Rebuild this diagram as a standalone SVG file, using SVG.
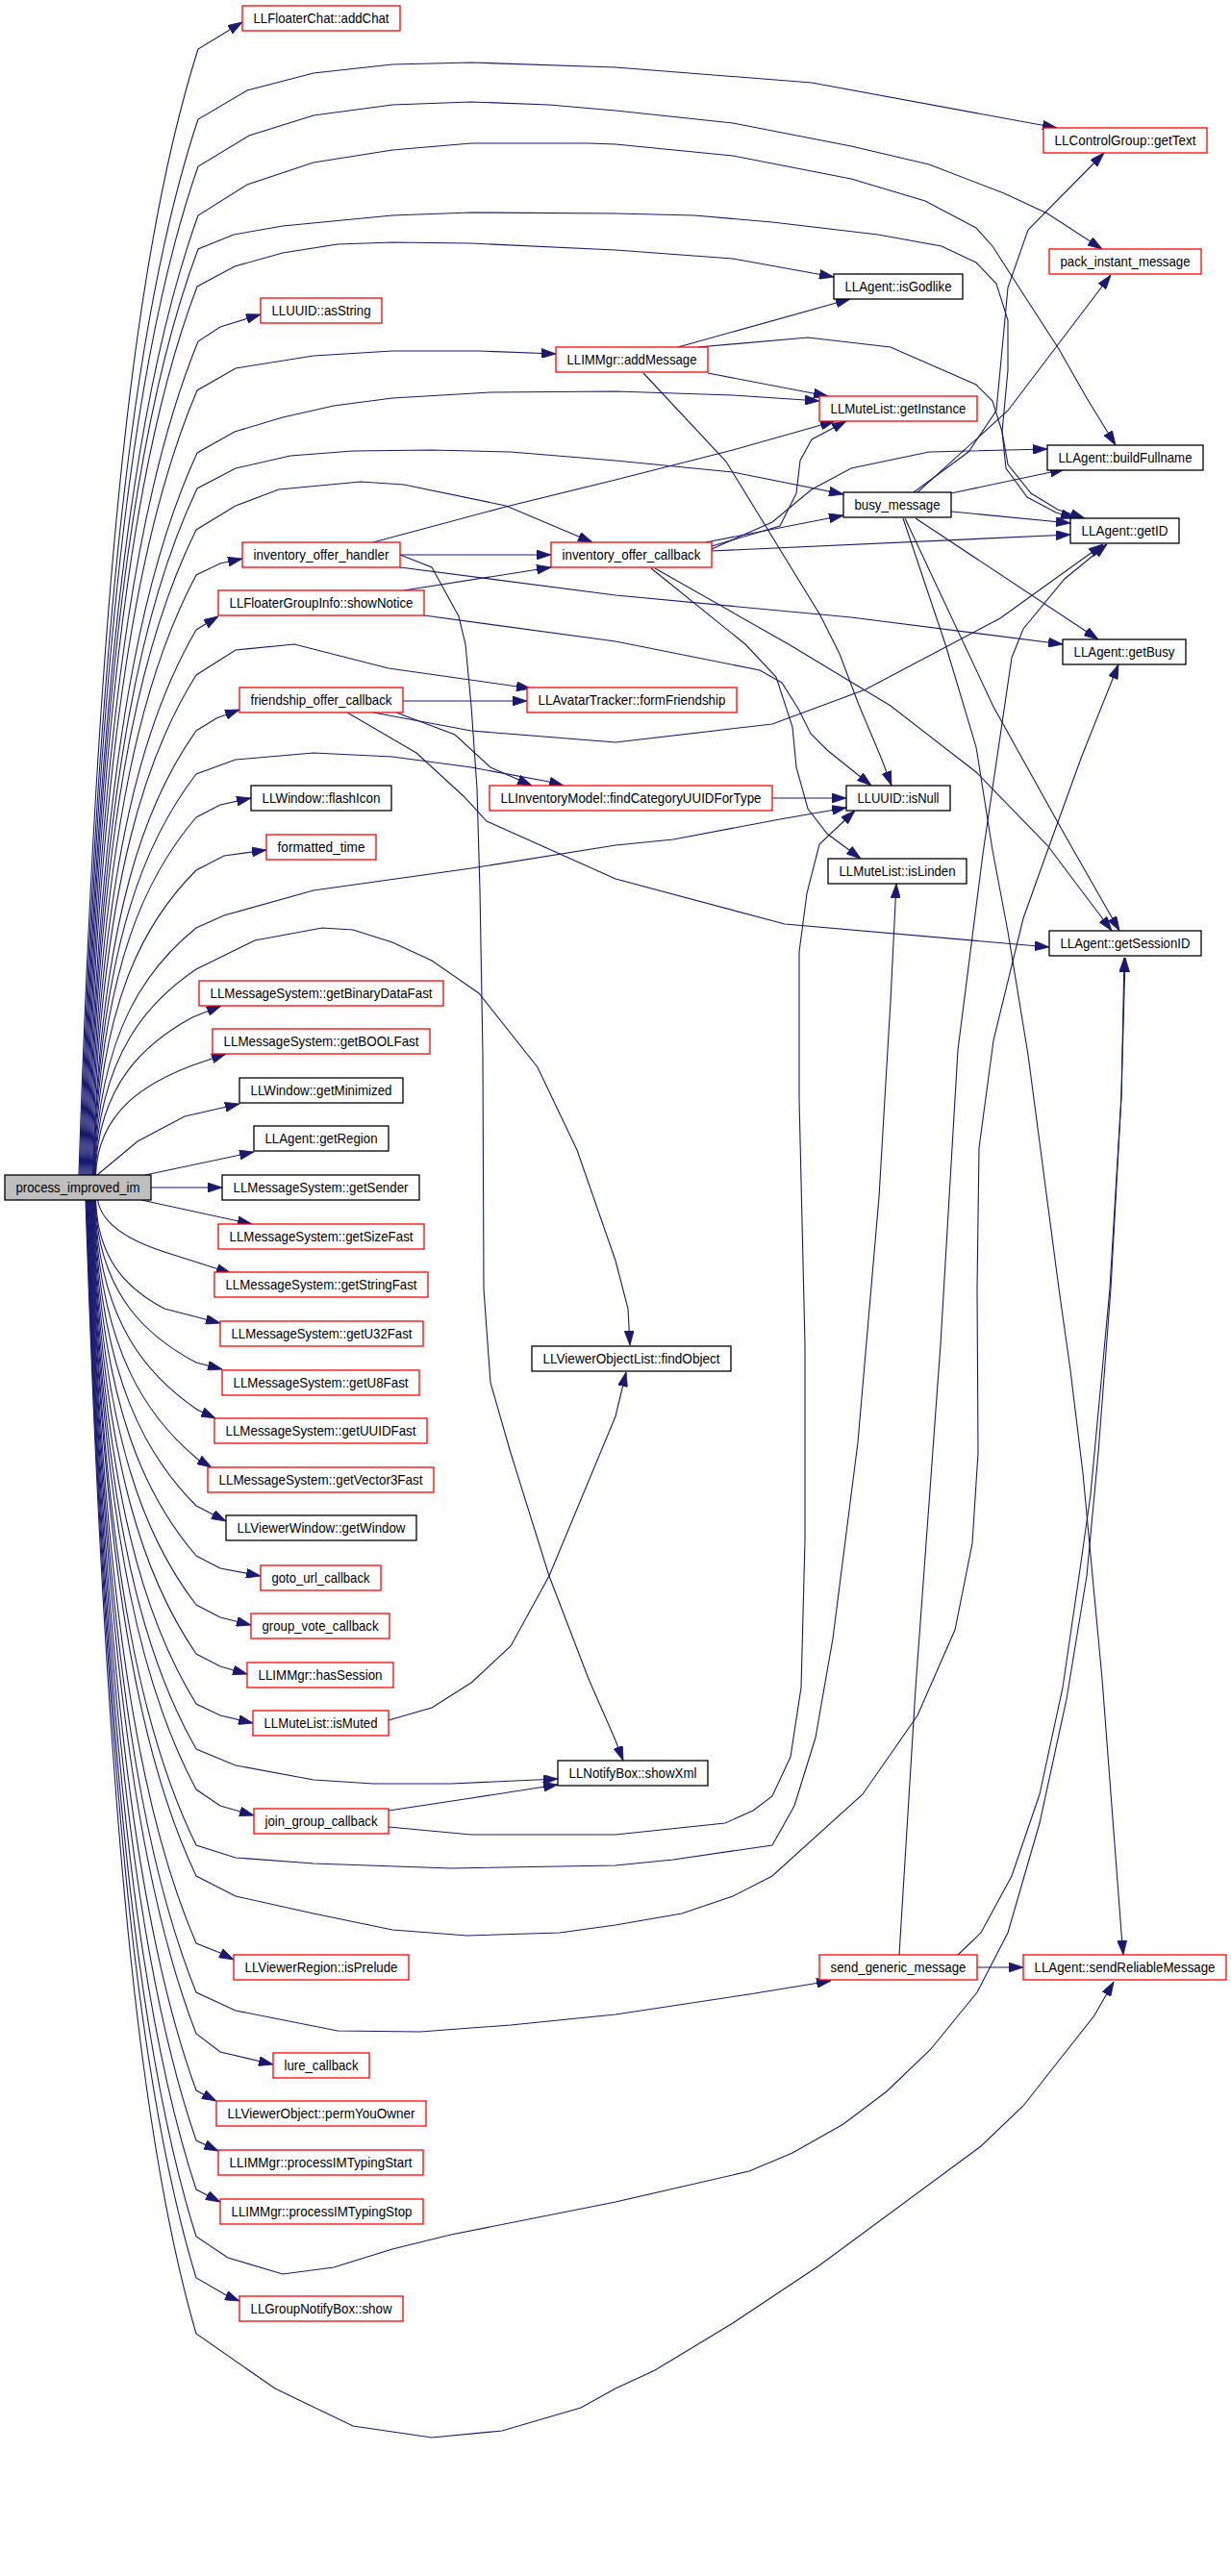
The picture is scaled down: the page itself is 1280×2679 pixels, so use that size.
<svg xmlns="http://www.w3.org/2000/svg" width="1280" height="2679" viewBox="0 0 1280 2679">
<style>
.e{fill:none;stroke:#191970;stroke-width:1.1;marker-end:url(#ah)}
.n rect{fill:#fff;stroke:#ff0000;stroke-width:1.3}
.k rect{fill:#fff;stroke:#000;stroke-width:1.3}
.g rect{fill:#bfbfbf;stroke:#000;stroke-width:1.3}
text{font-family:"Liberation Sans",Arial,Helvetica,sans-serif;font-size:15px;fill:#000;text-anchor:middle}
</style>
<defs>
<marker id="ah" markerUnits="userSpaceOnUse" markerWidth="15" markerHeight="10" refX="15" refY="5" orient="auto">
<path d="M0,0 L15,5 L0,10 z" fill="#191970" stroke="#191970" stroke-width="0.8"/>
</marker>
</defs>
<rect x="0" y="0" width="1280" height="2679" fill="#fff"/>
<g id="connectors">
<path class="e" d="M82,1222 C105,519 150,227 206,51 L252,23"/>
<path class="e" d="M83,1222 C105,563 151,289 206,124 L257,94 L326,76 L408,67 L490,65 L640,70 L844,86 L1099,133"/>
<path class="e" d="M84,1222 C105,593 151,330 206,173 L259,141 L326,120 L408,109 L490,106 L571,109 L640,115 L762,128 L885,152 L966,171 L1044,201 L1089,222 L1146,259"/>
<path class="e" d="M85,1222 C105,623 152,374 206,224 L257,192 L326,169 L408,156 L490,149 L612,149 L640,150 L762,162 L885,186 L962,209 L1015,237 L1032,256 L1068,312 L1101,363 L1130,414 L1160,463"/>
<path class="e" d="M86,1222 C105,644 152,403 206,259 L243,244 L294,235 L408,224 L490,221 L640,222 L722,224 L803,231 L913,244 L979,256 L1015,273 L1036,295 L1048,333 L1048,385 L1042,449 L1046,487 L1068,517 L1098,533 L1118,539"/>
<path class="e" d="M87,1222 C105.5,668 152,437 205,298 L244,277 L294,263 L351,254 L408,252 L490,253 L640,260 L762,269 L867,288"/>
<path class="e" d="M88,1222 C105,702 153,485 206,355 L229,340 L271,327"/>
<path class="e" d="M89,1222 C105,732 153,528 205,406 L245,383 L326,370 L408,365 L498,365 L578,368"/>
<path class="e" d="M90,1222 C105,771 153,584 205,471 L244,449 L294,434 L347,422 L408,414 L510,408 L640,407 L762,411 L852,417"/>
<path class="e" d="M91,1222 C105,794 154,615 205,508 L245,487 L302,474 L367,469 L449,468 L531,470 L640,479 L762,491 L877,514"/>
<path class="e" d="M92,1222 C105,819 154,652 204,551 L245,526 L290,509 L375,501 L420,504 L526,526 L616,564"/>
<path class="e" d="M93,1222 C105.5,848 154,692 204,598 L229,586 L252,581"/>
<path class="e" d="M94,1222 C105,882 154.5,740 204,655 L227,641"/>
<path class="e" d="M95,1222 C105,910 155,780 204,702 L245,676 L306,670 L404,695 L552,716"/>
<path class="e" d="M96,1222 C105,945 155,829 204,760 L225,747 L249,738"/>
<path class="e" d="M96.5,1222 C104.5,972 155.6,868 204,805 L245,790 L326,783 L408,787 L490,798 L571,813 L586,817"/>
<path class="e" d="M97,1222 C104.4,999 156,906 204,850 L229,837 L261,830"/>
<path class="e" d="M97.5,1222 C103.8,1032 156,953 204,905 L233,890 L277,884"/>
<path class="e" d="M98,1222 C103,1068 156,1004 204,965 L233,952 L326,926 L490,903 L640,879 L700,873 L811,852 L880,840"/>
<path class="e" d="M98.5,1222 C102.8,1094 156.5,1040 204,1008 L265,978 L335,965 L367,967 L408,980 L449,999 L498,1033 L559,1110 L600,1196 L640,1311 L653,1361 L655,1399"/>
<path class="e" d="M99,1222 C102,1124 154.5,1083 200,1058 L230,1046"/>
<path class="e" d="M99.5,1222 C101.8,1154 155,1125 200,1108 L235,1096"/>
<path class="e" d="M101,1222 L143,1187 L192,1161 L249,1148"/>
<path class="e" d="M151,1222 L264,1198"/>
<path class="e" d="M157,1235 L231,1235"/>
<path class="e" d="M147,1248 L262,1273"/>
<path class="e" d="M101.5,1248 C106,1275 140,1292 171,1302 L240,1324"/>
<path class="e" d="M99.5,1248 C101.8,1316 138.8,1344 171,1361 L229,1376"/>
<path class="e" d="M99,1248 C102.4,1349 156.8,1392 204,1417 L231,1424"/>
<path class="e" d="M98.5,1248 C102.9,1379 157,1433 205,1466 L224,1475"/>
<path class="e" d="M98,1248 C103.4,1409 156.9,1477 205,1517 L220,1526"/>
<path class="e" d="M97.5,1248 C103.9,1439 156,1518 204,1566 L235,1582"/>
<path class="e" d="M97,1248 C104.4,1470 155.9,1562 204,1618 L229,1631 L271,1639"/>
<path class="e" d="M96.5,1248 C104.9,1501 155.6,1606 204,1669 L229,1682 L261,1690"/>
<path class="e" d="M96,1248 C105.4,1531 155.4,1649 204,1720 L229,1733 L257,1741"/>
<path class="e" d="M95.5,1248 C106,1562 155.2,1693 204,1772 L229,1784 L263,1792"/>
<path class="e" d="M95,1248 C106.4,1591 155,1733 204,1819 L245,1836 L326,1851 L388,1855 L469,1855 L580,1850"/>
<path class="e" d="M94.5,1248 C106.8,1616 154.7,1769 204,1861 L229,1878 L264,1888"/>
<path class="e" d="M94,1248 C107.4,1651 154.5,1818 204,1919 L245,1932 L326,1938 L469,1943 L640,1940 L700,1934 L803,1919 L826,1878 L848,1807 L866,1704 L892,1500 L914,1245 L926,1041 L932,919"/>
<path class="e" d="M93.5,1248 C107.6,1670 154.3,1846 204,1951 L245,1972 L326,1990 L408,2007 L486,2013 L582,2010 L640,2002 L709,1990 L762,1972 L803,1951 L897,1866 L954,1784 L993,1695 L1011,1605 L1017,1511 L1016,1340 L1018,1194 L1033,1082 L1064,955 L1088,888 L1125,786 L1163,691"/>
<path class="e" d="M93,1248 C108.5,1712 154,1905 204,2021 L229,2031 L243,2038"/>
<path class="e" d="M92.5,1248 C109,1742 153.8,1948 204,2072 L245,2091 L351,2112 L437,2113 L531,2106 L640,2095 L779,2074 L864,2060"/>
<path class="e" d="M92,1248 C109.3,1768 153.6,1985 204,2115 L229,2134 L284,2147"/>
<path class="e" d="M91.5,1248 C110,1804 153.4,2035 204,2174 L225,2185"/>
<path class="e" d="M91,1248 C110.6,1835 153.2,2079 204,2226 L227,2237"/>
<path class="e" d="M90.5,1248 C111,1865 152.9,2123 204,2277 L229,2290"/>
<path class="e" d="M90,1248 C111.6,1895 152.7,2164 204,2326 L237,2348 L294,2365 L347,2358 L408,2339 L469,2324 L640,2290 L779,2258 L824,2239 L877,2209 L922,2175 L967,2132 L1016,2072 L1048,2010 L1081,1896 L1109,1767 L1130,1639 L1142,1511 L1155,1340 L1166,1140 L1169,996"/>
<path class="e" d="M89.5,1248 C112,1921 152.5,2201 204,2369 L237,2388 L249,2393"/>
<path class="e" d="M89,1248 C112.6,1955 152.3,2250 204,2427 L286,2484 L367,2523 L449,2535 L522,2528 L604,2504 L640,2484 L681,2465 L762,2416 L852,2356 L1020,2232 L1064,2190 L1138,2096 L1158,2061"/>
<path class="e" d="M416,577 L573,577"/>
<path class="e" d="M388,564 L526,527 L640,499 L762,468 L868,438"/>
<path class="e" d="M416,590 L640,619 L885,642 L1105,670"/>
<path class="e" d="M416,577 L449,590 L477,641 L484,670 L490,734 L496,820 L499,926 L502,1097 L503,1340 L506,1383 L510,1438 L531,1511 L571,1639 L612,1746 L640,1810 L648,1831"/>
<path class="e" d="M420,614 L573,590"/>
<path class="e" d="M441,640 L640,667 L790,697 L813,710 L830,737 L843,763 L860,780 L906,817"/>
<path class="e" d="M705,361 L884,311"/>
<path class="e" d="M736,388 L861,412"/>
<path class="e" d="M726,361 L840,351 L926,361 L1015,400 L1032,417 L1042,449 L1048,483 L1072,513 L1100,530 L1128,539"/>
<path class="e" d="M669,388 L755,480 L853,640 L873,680 L893,733 L917,790 L927,817"/>
<path class="e" d="M734,564 L877,536"/>
<path class="e" d="M740,568 L811,547 L828,513 L832,479 L844,457 L880,438"/>
<path class="e" d="M740,571 L803,543 L844,509 L885,487 L966,470 L1089,467"/>
<path class="e" d="M740,573 L1113,556"/>
<path class="e" d="M677,591 L775,670 L807,704 L824,756 L828,798 L840,841 L860,867 L895,893"/>
<path class="e" d="M681,591 L820,670 L926,734 L1015,803 L1089,879 L1156,968"/>
<path class="e" d="M950,512 L1007,470 L1036,427 L1044,342 L1048,299 L1069,239 L1148,159"/>
<path class="e" d="M954,512 L1048,427 L1155,286"/>
<path class="e" d="M989,513 L1107,488"/>
<path class="e" d="M989,532 L1113,544"/>
<path class="e" d="M952,539 L1142,665"/>
<path class="e" d="M941,539 L1033,735 L1107,868 L1164,968"/>
<path class="e" d="M939,539 L983,670 L1015,777 L1032,884 L1048,969 L1069,1097 L1101,1340 L1113,1425 L1126,1532 L1136,1639 L1146,1746 L1166,2010 L1168,2033"/>
<path class="e" d="M419,729 L548,729"/>
<path class="e" d="M412,741 L473,764 L510,798 L553,817"/>
<path class="e" d="M388,741 L490,760 L640,772 L803,753 L900,717 L1040,643 L1147,566"/>
<path class="e" d="M361,741 L433,783 L482,828 L506,854 L640,914 L816,961 L1091,985"/>
<path class="e" d="M803,830 L880,830"/>
<path class="e" d="M404,1883 L490,1870 L580,1856"/>
<path class="e" d="M404,1900 L490,1908 L640,1908 L754,1896 L783,1883 L803,1868 L822,1827 L833,1755 L837,1602 L837,1398 L831,1143 L831,990 L839,929 L852,878 L889,843"/>
<path class="e" d="M404,1789 L449,1776 L490,1750 L531,1712 L571,1639 L640,1473 L651,1427"/>
<path class="e" d="M1016,2046 L1064,2046"/>
<path class="e" d="M935,2033 L952,1756 L978,1398 L996,1092 L1022,888 L1052,684 L1064,654 L1107,602 L1151,566"/>
<path class="e" d="M996,2033 L1020,2010 L1052,1951 L1081,1866 L1105,1755 L1122,1639 L1134,1554 L1146,1426 L1154,1340 L1166,1140 L1170,996"/>
</g>
<g id="n_addChat" class="n"><rect x="252" y="6" width="164" height="26"/><text x="334" y="24" textLength="141" lengthAdjust="spacingAndGlyphs">LLFloaterChat::addChat</text></g>
<g id="n_getText" class="n"><rect x="1085" y="133" width="170" height="26"/><text x="1170" y="151" textLength="147" lengthAdjust="spacingAndGlyphs">LLControlGroup::getText</text></g>
<g id="n_pack_instant_message" class="n"><rect x="1091" y="259" width="158" height="26"/><text x="1170" y="277" textLength="135" lengthAdjust="spacingAndGlyphs">pack_instant_message</text></g>
<g id="n_isGodlike" class="k"><rect x="867" y="285" width="134" height="26"/><text x="934" y="303" textLength="111" lengthAdjust="spacingAndGlyphs">LLAgent::isGodlike</text></g>
<g id="n_asString" class="n"><rect x="271" y="310" width="126" height="26"/><text x="334" y="328" textLength="103" lengthAdjust="spacingAndGlyphs">LLUUID::asString</text></g>
<g id="n_addMessage" class="n"><rect x="578" y="361" width="158" height="26"/><text x="657" y="379" textLength="135" lengthAdjust="spacingAndGlyphs">LLIMMgr::addMessage</text></g>
<g id="n_getInstance" class="n"><rect x="852" y="412" width="164" height="26"/><text x="934" y="430" textLength="141" lengthAdjust="spacingAndGlyphs">LLMuteList::getInstance</text></g>
<g id="n_buildFullname" class="k"><rect x="1089" y="463" width="162" height="26"/><text x="1170" y="481" textLength="139" lengthAdjust="spacingAndGlyphs">LLAgent::buildFullname</text></g>
<g id="n_busy_message" class="k"><rect x="877" y="512" width="112" height="26"/><text x="933" y="530" textLength="89" lengthAdjust="spacingAndGlyphs">busy_message</text></g>
<g id="n_getID" class="k"><rect x="1113" y="539" width="113" height="26"/><text x="1169.5" y="557" textLength="90" lengthAdjust="spacingAndGlyphs">LLAgent::getID</text></g>
<g id="n_inventory_offer_handler" class="n"><rect x="252" y="564" width="164" height="26"/><text x="334" y="582" textLength="141" lengthAdjust="spacingAndGlyphs">inventory_offer_handler</text></g>
<g id="n_inventory_offer_callback" class="n"><rect x="573" y="564" width="167" height="26"/><text x="656.5" y="582" textLength="144" lengthAdjust="spacingAndGlyphs">inventory_offer_callback</text></g>
<g id="n_showNotice" class="n"><rect x="227" y="614" width="214" height="26"/><text x="334" y="632" textLength="191" lengthAdjust="spacingAndGlyphs">LLFloaterGroupInfo::showNotice</text></g>
<g id="n_getBusy" class="k"><rect x="1105" y="665" width="128" height="26"/><text x="1169" y="683" textLength="105" lengthAdjust="spacingAndGlyphs">LLAgent::getBusy</text></g>
<g id="n_friendship_offer_callback" class="n"><rect x="249" y="715" width="170" height="26"/><text x="334" y="733" textLength="147" lengthAdjust="spacingAndGlyphs">friendship_offer_callback</text></g>
<g id="n_formFriendship" class="n"><rect x="548" y="715" width="218" height="26"/><text x="657" y="733" textLength="195" lengthAdjust="spacingAndGlyphs">LLAvatarTracker::formFriendship</text></g>
<g id="n_flashIcon" class="k"><rect x="261" y="817" width="146" height="26"/><text x="334" y="835" textLength="123" lengthAdjust="spacingAndGlyphs">LLWindow::flashIcon</text></g>
<g id="n_findCategoryUUIDForType" class="n"><rect x="509" y="817" width="294" height="26"/><text x="656" y="835" textLength="271" lengthAdjust="spacingAndGlyphs">LLInventoryModel::findCategoryUUIDForType</text></g>
<g id="n_isNull" class="k"><rect x="880" y="817" width="108" height="26"/><text x="934" y="835" textLength="85" lengthAdjust="spacingAndGlyphs">LLUUID::isNull</text></g>
<g id="n_formatted_time" class="n"><rect x="277" y="868" width="114" height="26"/><text x="334" y="886" textLength="91" lengthAdjust="spacingAndGlyphs">formatted_time</text></g>
<g id="n_isLinden" class="k"><rect x="861" y="893" width="144" height="26"/><text x="933" y="911" textLength="121" lengthAdjust="spacingAndGlyphs">LLMuteList::isLinden</text></g>
<g id="n_getSessionID" class="k"><rect x="1091" y="968" width="158" height="26"/><text x="1170" y="986" textLength="135" lengthAdjust="spacingAndGlyphs">LLAgent::getSessionID</text></g>
<g id="n_getBinaryDataFast" class="n"><rect x="207" y="1020" width="254" height="26"/><text x="334" y="1038" textLength="231" lengthAdjust="spacingAndGlyphs">LLMessageSystem::getBinaryDataFast</text></g>
<g id="n_getBOOLFast" class="n"><rect x="221" y="1070" width="226" height="26"/><text x="334" y="1088" textLength="203" lengthAdjust="spacingAndGlyphs">LLMessageSystem::getBOOLFast</text></g>
<g id="n_getMinimized" class="k"><rect x="249" y="1121" width="170" height="26"/><text x="334" y="1139" textLength="147" lengthAdjust="spacingAndGlyphs">LLWindow::getMinimized</text></g>
<g id="n_getRegion" class="k"><rect x="264" y="1171" width="140" height="26"/><text x="334" y="1189" textLength="117" lengthAdjust="spacingAndGlyphs">LLAgent::getRegion</text></g>
<g id="n_process_improved_im" class="g"><rect x="5" y="1222" width="152" height="26"/><text x="81" y="1240" textLength="129" lengthAdjust="spacingAndGlyphs">process_improved_im</text></g>
<g id="n_getSender" class="k"><rect x="231" y="1222" width="205" height="26"/><text x="333.5" y="1240" textLength="182" lengthAdjust="spacingAndGlyphs">LLMessageSystem::getSender</text></g>
<g id="n_getSizeFast" class="n"><rect x="227" y="1273" width="214" height="26"/><text x="334" y="1291" textLength="191" lengthAdjust="spacingAndGlyphs">LLMessageSystem::getSizeFast</text></g>
<g id="n_getStringFast" class="n"><rect x="223" y="1323" width="222" height="26"/><text x="334" y="1341" textLength="199" lengthAdjust="spacingAndGlyphs">LLMessageSystem::getStringFast</text></g>
<g id="n_getU32Fast" class="n"><rect x="229" y="1374" width="211" height="26"/><text x="334.5" y="1392" textLength="188" lengthAdjust="spacingAndGlyphs">LLMessageSystem::getU32Fast</text></g>
<g id="n_getU8Fast" class="n"><rect x="231" y="1425" width="205" height="26"/><text x="333.5" y="1443" textLength="182" lengthAdjust="spacingAndGlyphs">LLMessageSystem::getU8Fast</text></g>
<g id="n_getUUIDFast" class="n"><rect x="223" y="1475" width="221" height="26"/><text x="333.5" y="1493" textLength="198" lengthAdjust="spacingAndGlyphs">LLMessageSystem::getUUIDFast</text></g>
<g id="n_getVector3Fast" class="n"><rect x="216" y="1526" width="235" height="26"/><text x="333.5" y="1544" textLength="212" lengthAdjust="spacingAndGlyphs">LLMessageSystem::getVector3Fast</text></g>
<g id="n_findObject" class="k"><rect x="553" y="1400" width="207" height="26"/><text x="656.5" y="1418" textLength="184" lengthAdjust="spacingAndGlyphs">LLViewerObjectList::findObject</text></g>
<g id="n_getWindow" class="k"><rect x="235" y="1576" width="198" height="26"/><text x="334" y="1594" textLength="175" lengthAdjust="spacingAndGlyphs">LLViewerWindow::getWindow</text></g>
<g id="n_goto_url_callback" class="n"><rect x="271" y="1628" width="125" height="26"/><text x="333.5" y="1646" textLength="102" lengthAdjust="spacingAndGlyphs">goto_url_callback</text></g>
<g id="n_group_vote_callback" class="n"><rect x="261" y="1678" width="144" height="26"/><text x="333" y="1696" textLength="121" lengthAdjust="spacingAndGlyphs">group_vote_callback</text></g>
<g id="n_hasSession" class="n"><rect x="257" y="1729" width="152" height="26"/><text x="333" y="1747" textLength="129" lengthAdjust="spacingAndGlyphs">LLIMMgr::hasSession</text></g>
<g id="n_isMuted" class="n"><rect x="263" y="1779" width="141" height="26"/><text x="333.5" y="1797" textLength="118" lengthAdjust="spacingAndGlyphs">LLMuteList::isMuted</text></g>
<g id="n_showXml" class="k"><rect x="580" y="1831" width="156" height="26"/><text x="658" y="1849" textLength="133" lengthAdjust="spacingAndGlyphs">LLNotifyBox::showXml</text></g>
<g id="n_join_group_callback" class="n"><rect x="264" y="1881" width="140" height="26"/><text x="334" y="1899" textLength="117" lengthAdjust="spacingAndGlyphs">join_group_callback</text></g>
<g id="n_isPrelude" class="n"><rect x="243" y="2033" width="182" height="26"/><text x="334" y="2051" textLength="159" lengthAdjust="spacingAndGlyphs">LLViewerRegion::isPrelude</text></g>
<g id="n_send_generic_message" class="n"><rect x="852" y="2033" width="164" height="26"/><text x="934" y="2051" textLength="141" lengthAdjust="spacingAndGlyphs">send_generic_message</text></g>
<g id="n_sendReliableMessage" class="n"><rect x="1064" y="2033" width="211" height="26"/><text x="1169.5" y="2051" textLength="188" lengthAdjust="spacingAndGlyphs">LLAgent::sendReliableMessage</text></g>
<g id="n_lure_callback" class="n"><rect x="284" y="2135" width="100" height="26"/><text x="334" y="2153" textLength="77" lengthAdjust="spacingAndGlyphs">lure_callback</text></g>
<g id="n_permYouOwner" class="n"><rect x="225" y="2185" width="218" height="26"/><text x="334" y="2203" textLength="195" lengthAdjust="spacingAndGlyphs">LLViewerObject::permYouOwner</text></g>
<g id="n_processIMTypingStart" class="n"><rect x="227" y="2236" width="213" height="26"/><text x="333.5" y="2254" textLength="190" lengthAdjust="spacingAndGlyphs">LLIMMgr::processIMTypingStart</text></g>
<g id="n_processIMTypingStop" class="n"><rect x="229" y="2287" width="211" height="26"/><text x="334.5" y="2305" textLength="188" lengthAdjust="spacingAndGlyphs">LLIMMgr::processIMTypingStop</text></g>
<g id="n_groupNotifyShow" class="n"><rect x="249" y="2388" width="170" height="26"/><text x="334" y="2406" textLength="147" lengthAdjust="spacingAndGlyphs">LLGroupNotifyBox::show</text></g>
</svg>
